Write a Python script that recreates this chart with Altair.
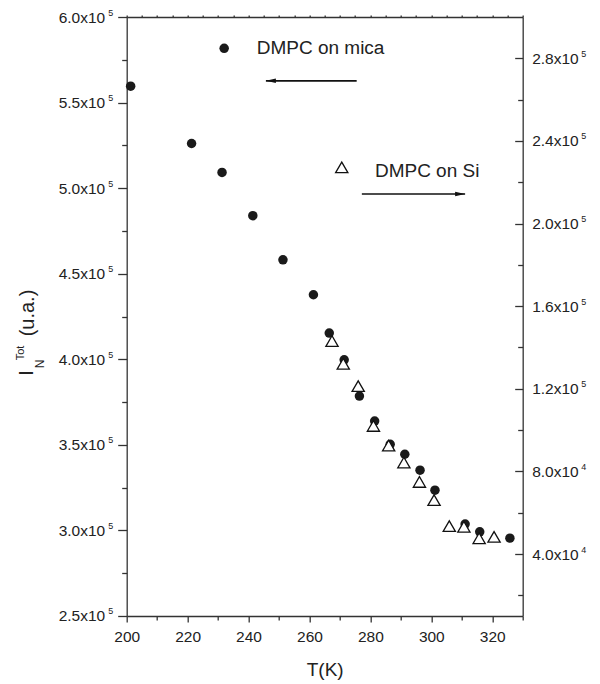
import altair as alt
import pandas as pd

# ---------------- data ----------------
T_mica = [201.3, 221.3, 231.3, 241.4, 251.3, 261.3, 266.5, 271.4, 276.4, 281.4,
          286.5, 291.3, 296.3, 301.2, 311.1, 315.9, 325.8]
I_mica = [5.596e5, 5.261e5, 5.092e5, 4.839e5, 4.581e5, 4.377e5, 4.153e5, 3.997e5,
          3.785e5, 3.639e5, 3.503e5, 3.445e5, 3.352e5, 3.235e5, 3.037e5, 2.992e5, 2.955e5]

T_si = [267.4, 271.1, 276.0, 281.0, 286.0, 291.0, 296.1, 300.9, 305.9, 310.7, 315.7, 320.6]
I_si = [1.431e5, 1.321e5, 1.213e5, 1.020e5, 0.925e5, 0.843e5, 0.749e5, 0.661e5,
        0.535e5, 0.532e5, 0.476e5, 0.483e5]

# axis tick values
x_major = [200, 220, 240, 260, 280, 300, 320]
x_minor = [210, 230, 250, 270, 290, 310, 330]
x_top_ticks = [200, 205, 210, 215, 220, 225, 230, 235, 240, 245, 250, 255, 260, 265,
               270, 275, 280, 285, 290, 295, 300, 305, 310, 315, 320, 325, 330]
yl_major = [250000, 300000, 350000, 400000, 450000, 500000, 550000, 600000]
yl_minor = [275000, 325000, 375000, 425000, 475000, 525000, 575000]
yr_major = [40000, 80000, 120000, 160000, 200000, 240000, 280000]
yr_minor = [20000, 60000, 100000, 140000, 180000, 220000, 260000]

# annotations (legend-like labels and arrows, in data units)
mica_label = {"T": [232.0], "I": [5.817e5], "Ttext": [242.7], "text": ["DMPC on mica"]}
mica_arrow = {"T1": [275.5], "T2": [245.7], "I": [5.627e5]}
si_label = {"T": [270.6], "I": [2.272e5], "Ttext": [281.5], "Itext": [2.256e5], "text": ["DMPC on Si"]}
si_arrow = {"T1": [277.2], "T2": [311.1], "I": [2.143e5]}

FONT = "Liberation Sans"
AX = "#333333"
TXT = "#222222"
LFS = 15.5

xs = alt.Scale(domain=[200, 330], nice=False, zero=False)
yls = alt.Scale(domain=[250000, 600000], nice=False, zero=False)
yrs = alt.Scale(domain=[10000, 300000], nice=False, zero=False)

base = dict(grid=False, domainColor=AX, domainWidth=1.3, tickColor=AX, tickWidth=1.3,
            labelFont=FONT, labelFontSize=LFS, labelColor=TXT, labelFlush=False,
            labelOverlap=False, title=None)

x_bottom = alt.Axis(**{**base, "title": "T(K)"},
                    orient="bottom", values=x_major, format="d", tickSize=6, labelPadding=8,
                    titleFont=FONT, titleFontSize=19, titleFontWeight="normal",
                    titleColor=TXT, titlePadding=15)
x_bottom_minor = alt.Axis(**base, orient="bottom", values=x_minor, tickSize=4,
                          labels=False, domain=False)
x_top = alt.Axis(**base, orient="top", values=x_top_ticks, labels=False, tickSize=2)

y_left = alt.Axis(**base, orient="left", values=yl_major, tickSize=9, labelPadding=13,
                  labelExpr="format(datum.value / 100000, '.1f') + 'x10'")
y_left_minor = alt.Axis(**base, orient="left", values=yl_minor, tickSize=5,
                        labels=False, domain=False)
y_left_exp = alt.Axis(**{**base, "labelFontSize": 9}, orient="left", values=yl_major,
                      ticks=False, tickSize=0, domain=False, labelPadding=14,
                      labelOffset=-5, labelExpr="'5'")

y_right = alt.Axis(**base, orient="right", values=yr_major, tickSize={"expr": "-8"},
                   labelPadding=17,
                   labelExpr="datum.value < 100000 ? format(datum.value / 10000, '.1f') + 'x10' : format(datum.value / 100000, '.1f') + 'x10'")
y_right_minor = alt.Axis(**base, orient="right", values=yr_minor, tickSize={"expr": "-5"},
                         labels=False, domain=False)
y_right_exp = alt.Axis(**{**base, "labelFontSize": 9}, orient="right", values=yr_major,
                       ticks=False, tickSize=0, domain=False, labelPadding=58,
                       labelOffset=-5, labelExpr="datum.value < 100000 ? '4' : '5'")

mica_df = pd.DataFrame({"T": T_mica, "I": I_mica})
si_df = pd.DataFrame({"T": T_si, "I": I_si})

# ---------- mica (left axis) ----------
circles = alt.Chart(mica_df).mark_point(filled=True, shape="circle", size=90,
                                        color="#1a1a1a", opacity=1).encode(
    x=alt.X("T:Q", scale=xs, axis=x_bottom),
    y=alt.Y("I:Q", scale=yls, axis=y_left),
)
# invisible carriers for minor ticks and exponent labels
left_minor = alt.Chart(mica_df).mark_point(opacity=0).encode(
    x=alt.X("T:Q", scale=xs, axis=x_bottom_minor),
    y=alt.Y("I:Q", scale=yls, axis=y_left_minor))
left_exp = alt.Chart(mica_df).mark_point(opacity=0).encode(
    x=alt.X("T:Q", scale=xs, axis=None),
    y=alt.Y("I:Q", scale=yls, axis=y_left_exp))

ml_df = pd.DataFrame(mica_label)
mica_sym = alt.Chart(ml_df).mark_point(filled=True, shape="circle", size=90,
                                       color="#1a1a1a", opacity=1).encode(
    x=alt.X("T:Q", scale=xs, axis=None), y=alt.Y("I:Q", scale=yls, axis=None))
mica_txt = alt.Chart(ml_df).mark_text(align="left", baseline="middle", font=FONT,
                                      fontSize=19, color=TXT).encode(
    x=alt.X("Ttext:Q", scale=xs, axis=None), y=alt.Y("I:Q", scale=yls, axis=None),
    text="text:N")
ma_df = pd.DataFrame(mica_arrow)
mica_line = alt.Chart(ma_df).mark_rule(color="#111111", strokeWidth=1.6).encode(
    x=alt.X("T1:Q", scale=xs, axis=None), x2="T2:Q",
    y=alt.Y("I:Q", scale=yls, axis=None))
mica_head = alt.Chart(ma_df).mark_point(filled=True, shape="M0,0L2,-0.45L2,0.45Z",
                                        size=100, color="#111111", opacity=1).encode(
    x=alt.X("T2:Q", scale=xs, axis=None), y=alt.Y("I:Q", scale=yls, axis=None))

# y-axis title: I with subscript N and superscript Tot, rotated
ytitle_parts = ["I", "N", "Tot", "(u.a.)"]
ytitle_x = [-99.7, -86.7, -105.2, -98.7]
ytitle_y = [356, 347, 336, 296]
ytitle_size = [20, 12, 11, 20]
ytitle_layers = []
for t, xx, yy, fs in zip(ytitle_parts, ytitle_x, ytitle_y, ytitle_size):
    ytitle_layers.append(
        alt.Chart(pd.DataFrame({"k": [0]})).mark_text(
            angle=270, align="center", baseline="middle", font=FONT, fontSize=fs, color=TXT
        ).encode(x=alt.value(xx), y=alt.value(yy), text=alt.value(t))
    )

# ---------- Si (right axis) ----------
triangles = alt.Chart(si_df).mark_point(shape="triangle-up", size=150, filled=True,
                                        fill="white", stroke="#111111", strokeWidth=1.3,
                                        opacity=1).encode(
    x=alt.X("T:Q", scale=xs, axis=x_top),
    y=alt.Y("I:Q", scale=yrs, axis=y_right),
)
right_minor = alt.Chart(si_df).mark_point(opacity=0).encode(
    x=alt.X("T:Q", scale=xs, axis=None),
    y=alt.Y("I:Q", scale=yrs, axis=y_right_minor))
right_exp = alt.Chart(si_df).mark_point(opacity=0).encode(
    x=alt.X("T:Q", scale=xs, axis=None),
    y=alt.Y("I:Q", scale=yrs, axis=y_right_exp))

sl_df = pd.DataFrame(si_label)
si_sym = alt.Chart(sl_df).mark_point(shape="triangle-up", size=150, filled=True,
                                     fill="white", stroke="#111111", strokeWidth=1.3,
                                     opacity=1).encode(
    x=alt.X("T:Q", scale=xs, axis=None), y=alt.Y("I:Q", scale=yrs, axis=None))
si_txt = alt.Chart(sl_df).mark_text(align="left", baseline="middle", font=FONT,
                                    fontSize=19, color=TXT).encode(
    x=alt.X("Ttext:Q", scale=xs, axis=None), y=alt.Y("Itext:Q", scale=yrs, axis=None),
    text="text:N")
sa_df = pd.DataFrame(si_arrow)
si_line = alt.Chart(sa_df).mark_rule(color="#111111", strokeWidth=1.6).encode(
    x=alt.X("T1:Q", scale=xs, axis=None), x2="T2:Q",
    y=alt.Y("I:Q", scale=yrs, axis=None))
si_head = alt.Chart(sa_df).mark_point(filled=True, shape="M0,0L-2,-0.45L-2,0.45Z",
                                      size=100, color="#111111", opacity=1).encode(
    x=alt.X("T2:Q", scale=xs, axis=None), y=alt.Y("I:Q", scale=yrs, axis=None))

chart = alt.layer(
    left_minor, left_exp, right_minor, right_exp,
    circles, mica_sym, mica_txt, mica_line, mica_head,
    triangles, si_sym, si_txt, si_line, si_head, *ytitle_layers
).resolve_scale(x="independent", y="independent").resolve_axis(
    x="independent", y="independent"
).properties(
    width=396, height=599,
    autosize=alt.AutoSizeParams(type="none"),
    padding={"left": 118.7, "top": 9, "right": 69, "bottom": 67},
    background="white",
).configure_view(stroke=None)

chart.save("out.html", embed_options={"renderer": "svg", "actions": False})
